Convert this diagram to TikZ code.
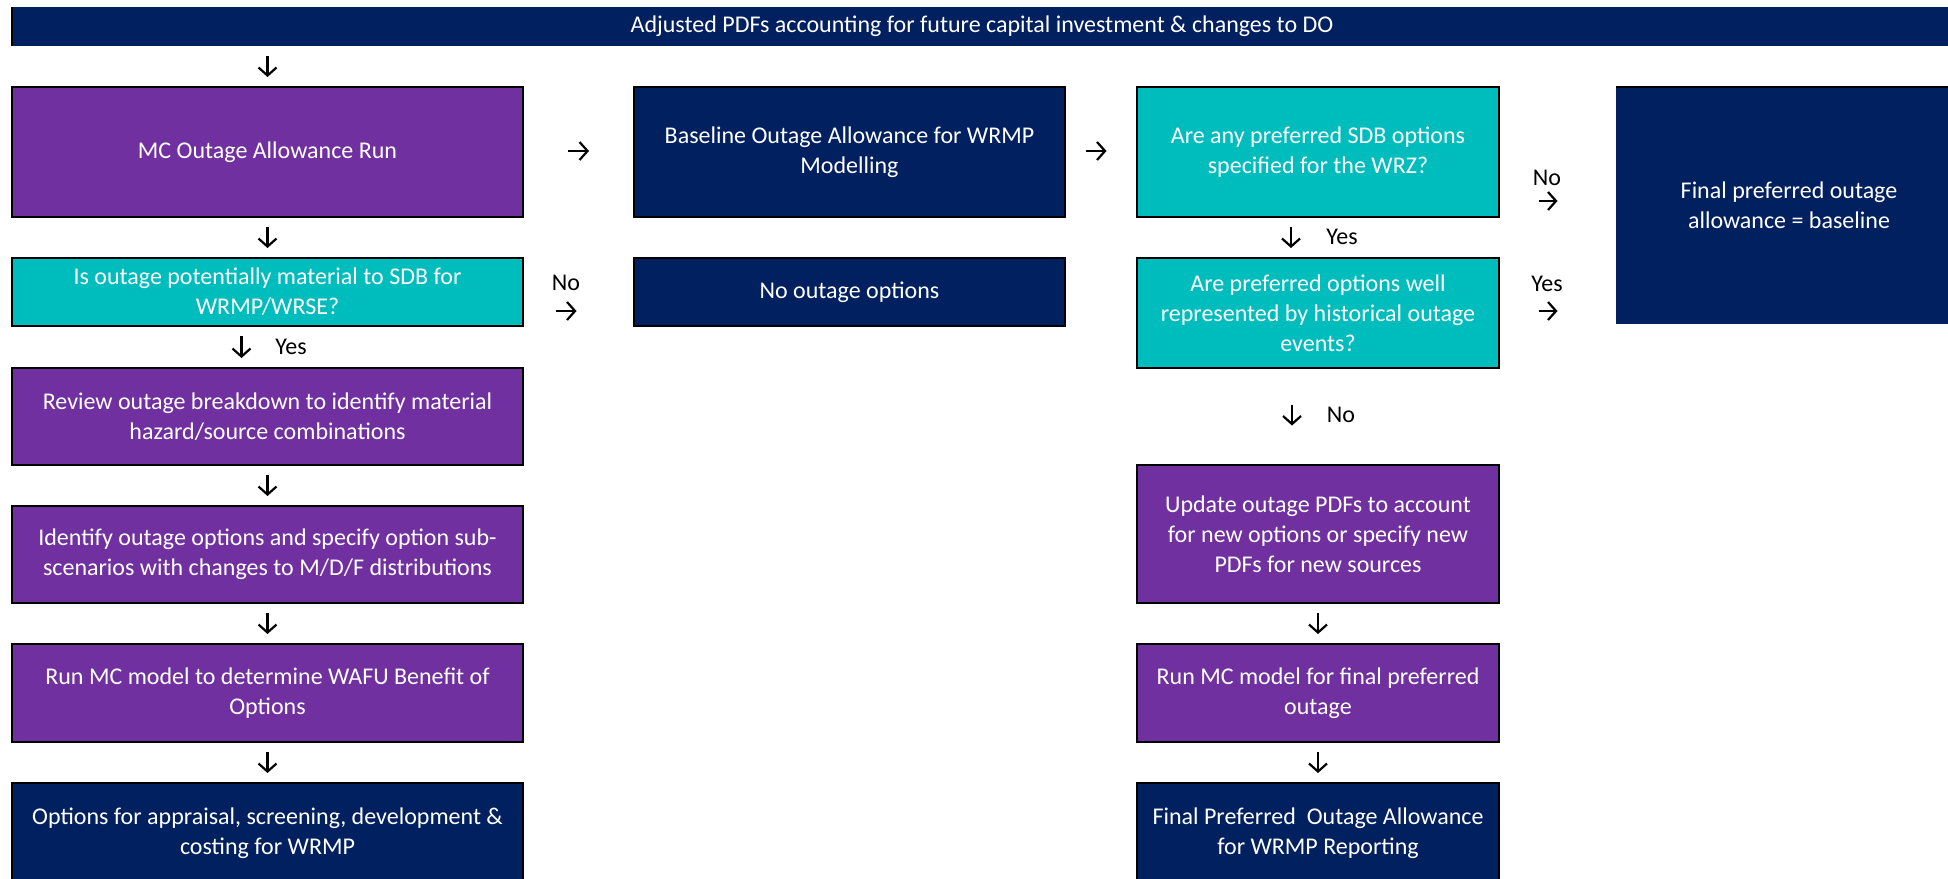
\documentclass[tikz,border=0pt]{standalone}
\usepackage{fontspec}
\setmainfont{Carlito}
\usetikzlibrary{arrows.meta}
\definecolor{navy}{HTML}{002060}
\definecolor{purp}{HTML}{7030A0}
\definecolor{tealc}{HTML}{00BDBD}
\begin{document}
\begin{tikzpicture}[x=1pt,y=-1pt,
  box/.style={draw=black, line width=2pt, text=white, align=center, inner sep=0pt, outer sep=0pt, font=\fontsize{24}{30}\selectfont},
  navybox/.style={box, fill=navy},
  purpbox/.style={box, fill=purp},
  tealbox/.style={box, fill=tealc},
  garrow/.style={line width=2.2pt, -{Straight Barb[length=8pt,width=18pt]}},
  lbl/.style={font=\fontsize{24}{30}\selectfont, inner sep=0pt, text=black}]
\useasboundingbox (0,0) rectangle (1948,878);
\fill[white] (0,0) rectangle (1948,878);

% boxes
\node[navybox, draw=none, minimum width=1940, minimum height=39] (banner) at (982,26.5) {Adjusted PDFs accounting for future capital investment \& changes to DO};
\draw[line width=2pt] (banner.north west) -- (banner.south west);

\node[purpbox, minimum width=511, minimum height=130] (mc) at (267.5,152) {MC Outage Allowance Run};
\node[navybox, minimum width=431, minimum height=130] (base) at (849.5,152) {Baseline Outage Allowance for WRMP\\Modelling};
\node[tealbox, minimum width=362, minimum height=130] (q3) at (1318,152) {Are any preferred SDB options\\specified for the WRZ?};
\node[navybox, draw=none, minimum width=346, minimum height=237] (fin) at (1789,205.5) {Final preferred outage\\allowance = baseline};
\draw[line width=2pt] (fin.north west) -- (fin.north east);

\node[tealbox, minimum width=511, minimum height=68] (q1) at (267.5,292) {Is outage potentially material to SDB for\\WRMP/WRSE?};
\node[navybox, minimum width=431, minimum height=68] (noopt) at (849.5,292) {No outage options};
\node[tealbox, minimum width=362, minimum height=110] (q4) at (1318,313) {Are preferred options well\\represented by historical outage\\events?};

\node[purpbox, minimum width=511, minimum height=97] (rev) at (267.5,416.5) {Review outage breakdown to identify material\\hazard/source combinations};
\node[purpbox, minimum width=362, minimum height=138] (upd) at (1318,534) {Update outage PDFs to account\\for new options or specify new\\PDFs for new sources};
\node[purpbox, minimum width=511, minimum height=97] (ident) at (267.5,554.5) {Identify outage options and specify option sub-\\scenarios with changes to M/D/F distributions};
\node[purpbox, minimum width=511, minimum height=98] (run) at (267.5,693) {Run MC model to determine WAFU Benefit of\\Options};
\node[purpbox, minimum width=362, minimum height=98] (run2) at (1318,693) {Run MC model for final preferred\\outage};
\node[navybox, minimum width=511, minimum height=100] (opt) at (267.5,833) {Options for appraisal, screening, development \&\\costing for WRMP};
\node[navybox, minimum width=362, minimum height=100] (fpo) at (1318,833) {Final Preferred\ \ Outage Allowance\\for WRMP Reporting};

% vertical arrows, left column
\draw[garrow] ([yshift=-10]mc.north |- banner.south) -- ([yshift=10]mc.north);
\draw[garrow] ([yshift=-10]mc.south) -- ([yshift=10]q1.north);
\draw[garrow] ([xshift=-26,yshift=-10]q1.south) -- ([xshift=-26,yshift=10]rev.north);
\node[lbl] (yes1) at (291,347) {Yes};
\draw[garrow] ([yshift=-10]rev.south) -- ([yshift=10]ident.north);
\draw[garrow] ([yshift=-10]ident.south) -- ([yshift=10]run.north);
\draw[garrow] ([yshift=-10]run.south) -- ([yshift=10]opt.north);

% horizontal arrows
\draw[garrow] ([xshift=45,yshift=1]mc.east) -- ([xshift=-45,yshift=1]base.west);
\draw[garrow] ([xshift=20.5,yshift=1]base.east) -- ([xshift=-30.5,yshift=1]q3.west);
\node[lbl] (no1) at (566,283) {No};
\draw[garrow] ([xshift=32.5,yshift=-19]q1.east) -- ([xshift=-57.5,yshift=-19]noopt.west);
\node[lbl] (no2) at (1547,178) {No};
\draw[garrow] ([xshift=39.5,yshift=-49]q3.east) -- ([xshift=-58.5,yshift=4.5]fin.west);
\node[lbl] (yes3) at (1547,284) {Yes};
\draw[garrow] ([xshift=39.5,yshift=2]q4.east) -- ([xshift=-58.5,yshift=-105.5]fin.west);

% vertical arrows, right column
\draw[garrow] ([xshift=-27,yshift=-10]q3.south) -- ([xshift=-27,yshift=10]q4.north);
\node[lbl] (yes2) at (1342,237) {Yes};
\draw[garrow] ([xshift=-26,yshift=-36.5]q4.south) -- ([xshift=-26,yshift=39.5]upd.north);
\node[lbl] (no3) at (1341,415) {No};
\draw[garrow] ([yshift=-10]upd.south) -- ([yshift=10]run2.north);
\draw[garrow] ([yshift=-10]run2.south) -- ([yshift=10]fpo.north);
\end{tikzpicture}
\end{document}
